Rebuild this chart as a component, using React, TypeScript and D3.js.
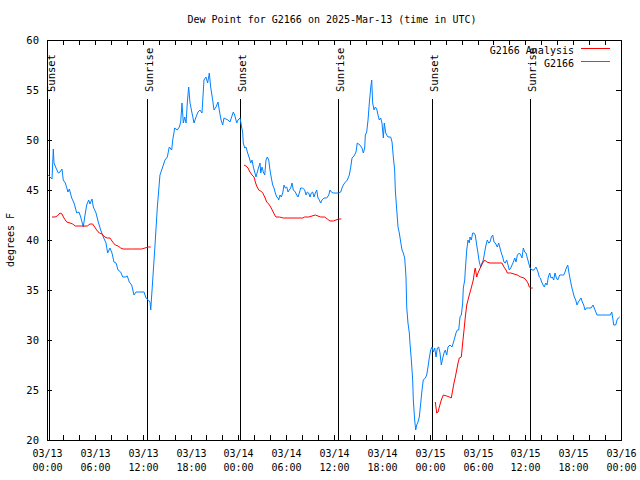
import React from "react";
import * as d3 from "d3";

const TITLE = "Dew Point for G2166 on 2025-Mar-13 (time in UTC)";
const Y_LABEL = "degrees F";
const START = Date.UTC(2025, 2, 13, 0, 0);
const END = Date.UTC(2025, 2, 16, 0, 0);
const yTicks = [20, 25, 30, 35, 40, 45, 50, 55, 60];

// Sun events (hours since 03/13 00:00 UTC)
const sunEventHours = [0.28, 12.58, 24.15, 36.55, 48.33, 60.62];
const sunEventNames = ["Sunset", "Sunrise", "Sunset", "Sunrise", "Sunset", "Sunrise"];

// G2166 observations (hours since start, deg F)
const obsHours = [
  0.13, 0.38, 0.63, 0.79, 0.88, 1.13, 1.42, 1.63, 1.88, 2.04, 2.30, 2.63, 2.80, 3.10, 3.39, 3.73, 4.01, 4.23, 4.55, 4.73,
  4.98, 5.23, 5.39, 5.64, 5.81, 6.15, 6.43, 6.74, 7.06, 7.40, 7.61, 7.90, 8.15, 8.40, 8.66, 8.91, 9.24, 9.50, 9.82, 10.07,
  10.32, 10.62, 10.91, 11.16, 11.67, 12.17, 12.42, 12.71, 12.92, 13.01, 13.26, 13.55, 13.84, 14.17, 14.51, 14.80, 15.09, 15.34, 15.64, 15.77,
  16.02, 16.34, 16.60, 16.77, 16.93, 17.10, 17.27, 17.44, 17.60, 17.77, 17.94, 18.19, 18.44, 18.69, 18.94, 19.19, 19.44, 19.69, 19.94, 20.15,
  20.36, 20.53, 20.78, 20.95, 21.20, 21.45, 21.61, 21.83, 22.04, 22.20, 22.45, 22.70, 22.95, 23.37, 23.54, 23.80, 23.96, 24.21, 24.37, 24.55,
  24.62, 24.80, 24.96, 25.13, 25.38, 25.55, 25.72, 25.88, 26.05, 26.22, 26.38, 26.56, 26.72, 26.81, 26.97, 27.13, 27.31, 27.47, 27.63, 27.81,
  27.97, 28.14, 28.31, 28.47, 28.64, 28.81, 28.98, 29.06, 29.23, 29.39, 29.57, 29.73, 29.89, 30.07, 30.23, 30.39, 30.57, 30.73, 30.90, 31.15,
  31.32, 31.48, 31.65, 31.82, 32.07, 32.32, 32.49, 32.65, 32.83, 32.99, 33.15, 33.33, 33.49, 33.66, 33.83, 33.99, 34.16, 34.33, 34.50, 34.75,
  35.09, 35.34, 35.50, 35.66, 35.91, 36.25, 36.59, 36.84, 37.00, 37.17, 37.34, 37.67, 37.92, 38.10, 38.26, 38.51, 38.76, 38.92, 39.26, 39.51,
  39.68, 39.85, 39.93, 40.10, 40.27, 40.43, 40.60, 40.73, 40.85, 41.02, 41.18, 41.36, 41.52, 41.68, 41.86, 42.02, 42.19, 42.31, 42.49, 42.61,
  42.77, 43.11, 43.28, 43.44, 43.61, 43.69, 43.87, 44.03, 44.19, 44.37, 44.53, 44.69, 44.87, 45.03, 45.12, 45.28, 45.45, 45.53, 45.70, 45.87,
  45.95, 46.12, 46.25, 46.37, 46.54, 46.70, 46.88, 47.04, 47.20, 47.45, 47.63, 47.79, 47.95, 48.13, 48.29, 48.46, 48.63, 48.80, 48.96, 49.13,
  49.30, 49.46, 49.64, 49.80, 49.96, 50.14, 50.30, 50.55, 50.80, 50.96, 51.14, 51.30, 51.47, 51.64, 51.81, 51.97, 52.14, 52.22, 52.40, 52.47,
  52.65, 52.81, 52.97, 53.06, 53.22, 53.40, 53.56, 53.72, 53.90, 54.06, 54.22, 54.40, 54.56, 54.73, 54.90, 55.07, 55.23, 55.41, 55.57, 55.74,
  55.91, 56.07, 56.23, 56.48, 56.66, 56.82, 56.99, 57.16, 57.32, 57.49, 57.66, 57.83, 57.99, 58.17, 58.33, 58.50, 58.67, 58.83, 59.00, 59.25,
  59.42, 59.58, 59.75, 59.92, 60.08, 60.25, 60.42, 60.59, 60.84, 61.09, 61.34, 61.59, 61.75, 61.88, 62.05, 62.22, 62.38, 62.56, 62.72, 62.88,
  63.06, 63.22, 63.38, 63.56, 63.72, 63.89, 64.06, 64.31, 64.56, 64.81, 64.98, 65.14, 65.32, 65.48, 65.64, 65.82, 65.98, 66.14, 66.32, 66.48,
  66.65, 66.82, 66.98, 67.15, 67.32, 67.49, 67.65, 67.90, 68.24, 68.49, 68.74, 68.99, 69.58, 70.21, 70.66, 70.84, 71.00, 71.09, 71.34, 71.50,
  71.66, 71.84,
];
const obsDew = [
  46.5, 46.3, 46.1, 49.1, 47.7, 47.2, 46.7, 46.8, 47.1, 46.0, 45.7, 44.8, 45.1, 44.2, 43.7, 42.7, 42.8, 42.3, 41.3, 42.3,
  43.5, 44.0, 43.6, 44.1, 43.3, 42.7, 41.8, 41.0, 40.3, 39.7, 38.7, 39.2, 38.7, 37.8, 37.7, 37.0, 36.8, 36.3, 36.3, 36.4,
  35.8, 35.5, 34.5, 34.8, 34.8, 34.8, 34.2, 34.0, 33.8, 33.0, 36.0, 39.5, 43.3, 46.5, 47.3, 48.0, 48.3, 49.3, 49.0, 50.0,
  51.2, 51.0, 51.3, 51.8, 53.7, 51.7, 52.3, 51.7, 53.7, 55.3, 53.7, 52.7, 51.7, 52.3, 52.8, 53.0, 52.7, 56.0, 56.3, 55.7,
  56.7, 55.3, 54.0, 53.0, 53.3, 53.8, 53.0, 52.0, 51.5, 52.2, 52.1, 52.0, 51.8, 52.8, 52.5, 51.7, 52.0, 52.2, 51.5, 50.7,
  49.7, 49.2, 49.3, 48.8, 48.2, 47.7, 48.0, 47.3, 46.8, 46.3, 46.8, 47.3, 47.7, 46.7, 47.3, 46.8, 46.5, 48.0, 48.3, 48.0,
  47.0, 46.2, 45.5, 45.2, 44.7, 44.3, 44.2, 44.0, 44.5, 44.3, 44.7, 45.5, 45.2, 45.3, 44.8, 45.0, 45.2, 45.7, 45.0, 44.8,
  44.5, 44.3, 44.7, 45.2, 45.2, 45.0, 44.5, 44.8, 44.7, 44.3, 44.7, 44.8, 44.3, 44.7, 45.0, 44.2, 44.0, 43.7, 44.0, 44.2,
  44.2, 44.5, 45.0, 44.8, 44.7, 44.7, 44.7, 44.8, 45.2, 45.5, 45.7, 46.0, 46.5, 47.3, 48.2, 48.4, 48.8, 49.7, 49.5, 49.2,
  48.7, 49.2, 50.5, 50.8, 52.0, 53.7, 55.2, 56.0, 53.7, 53.0, 53.3, 53.1, 52.5, 52.0, 52.2, 51.7, 50.2, 51.7, 50.7, 50.5,
  50.3, 50.3, 49.8, 48.3, 47.0, 45.0, 43.0, 41.3, 40.7, 39.8, 39.0, 38.7, 38.2, 36.3, 33.3, 31.7, 30.7, 29.7, 28.0, 26.0,
  24.0, 22.0, 21.0, 21.5, 21.8, 22.3, 23.7, 25.0, 26.0, 26.2, 26.5, 27.3, 28.2, 29.0, 29.3, 28.8, 29.2, 28.3, 29.2, 29.3,
  28.7, 27.5, 28.2, 28.7, 29.0, 28.5, 29.3, 29.5, 29.3, 29.7, 30.2, 30.7, 31.0, 31.0, 32.3, 32.5, 33.7, 35.2, 36.0, 37.0,
  39.0, 40.0, 39.7, 40.3, 40.0, 40.7, 40.7, 40.5, 39.5, 38.7, 37.8, 37.3, 37.7, 38.0, 38.8, 39.5, 40.0, 39.7, 39.8, 40.3,
  40.5, 39.8, 39.7, 39.3, 39.7, 39.2, 38.7, 38.3, 37.8, 37.7, 38.0, 37.5, 37.0, 37.2, 37.5, 37.8, 38.2, 37.8, 38.5, 38.7,
  38.5, 38.2, 39.2, 38.8, 38.7, 38.2, 37.7, 37.2, 37.0, 37.0, 37.3, 36.8, 36.3, 36.2, 35.8, 35.5, 35.3, 35.7, 35.5, 36.3,
  36.7, 36.2, 36.3, 36.0, 36.7, 36.2, 36.0, 36.5, 36.5, 36.5, 36.8, 37.2, 37.5, 36.7, 36.0, 35.3, 34.8, 34.3, 34.0, 33.5,
  33.8, 34.0, 34.2, 33.8, 33.5, 33.0, 33.2, 33.2, 33.2, 33.5, 33.0, 32.5, 32.5, 32.5, 32.5, 32.8, 32.0, 31.5, 31.5, 32.0,
  32.2, 32.3,
];

// G2166 Analysis (null separates runs)
const anaHours = [
  0.63, 1.00, 1.29, 1.63, 1.88, 2.13, 2.47, 2.89, 3.22, 3.55, 4.35, 5.06, 5.39, 5.73, 5.98, 6.23, 6.56, 6.90, 7.24, 7.56,
  7.90, 8.24, 8.57, 8.91, 9.24, 9.57, 10.62, 11.88, 12.29, 12.71, 13.01, null,
  24.71, 24.96, 25.21, 25.46, 25.72, 25.97, 26.13, 26.30, 26.56, 26.81, 27.06, 27.31, 27.56, 27.81, 28.06, 28.31, 28.56, 28.73, 29.14, 29.64,
  32.07, 32.32, 32.83, 33.24, 33.66, 33.99, 34.33, 34.83, 35.16, 35.50, 35.91, 36.25, 36.59, 36.92, null,
  48.71, 48.88, 49.05, 49.21, 49.46, 49.71, 50.14, 50.47, 50.71, 50.89, 51.05, 51.22, 51.39, 51.56, 51.72, 51.97, 52.14, 52.31, 52.47, 52.65,
  52.81, 52.97, 53.15, 53.31, 53.47, 53.65, 53.72, 53.90, 54.06, 54.22, 54.40, 54.65, 54.90, 55.15, 55.57, 57.07, 57.32, 57.58, 57.74, 58.17,
  58.58, 58.99, 59.42, 59.83, 60.08, 60.33, 60.50, 60.68, 60.93,
];
const anaDew = [
  42.3, 42.3, 42.4, 42.7, 42.6, 42.2, 41.8, 41.7, 41.6, 41.4, 41.4, 41.4, 41.6, 41.6, 41.3, 41.0, 40.7, 40.6, 40.3, 40.2,
  40.2, 39.8, 39.5, 39.4, 39.2, 39.1, 39.1, 39.1, 39.2, 39.3, 39.3, null,
  47.5, 47.4, 47.2, 46.8, 46.5, 46.3, 45.8, 45.4, 45.0, 44.9, 44.7, 44.3, 43.8, 43.6, 43.3, 42.9, 42.5, 42.3, 42.3, 42.2,
  42.2, 42.3, 42.3, 42.4, 42.5, 42.4, 42.3, 42.3, 42.1, 41.9, 41.9, 42.0, 42.1, 42.1, null,
  23.8, 22.7, 22.8, 23.3, 24.0, 24.5, 24.4, 24.3, 24.2, 25.0, 25.7, 26.3, 27.0, 27.7, 28.2, 28.3, 29.7, 31.0, 32.3, 33.5,
  34.0, 34.5, 35.0, 35.5, 36.0, 37.0, 37.2, 36.3, 36.7, 37.0, 37.3, 37.7, 38.0, 37.8, 37.7, 37.7, 37.3, 37.0, 36.7, 36.7,
  36.6, 36.5, 36.3, 36.2, 36.0, 35.7, 35.3, 35.2, 35.2,
];

const OBS_COLOR = "#0080ff";
const ANA_COLOR = "#ff0000";
const FONT = "'DejaVu Sans Mono', monospace";

const W = 640, H = 480;
const M = { left: 47, right: 621, top: 40, bottom: 440 };
const HOUR = 3600 * 1000;

export default function App() {
  const x = d3.scaleUtc().domain([new Date(START), new Date(END)]).range([M.left, M.right]);
  const y = d3.scaleLinear().domain([20, 60]).range([M.bottom, M.top]);
  const t = (h: number) => new Date(START + h * HOUR);

  const obs = obsHours.map((h, i) => ({ d: t(h), v: obsDew[i] }));
  const ana = anaHours.map((h, i) => ({ d: h == null ? null : t(h), v: anaDew[i] }));

  const line = d3
    .line<{ d: Date | null; v: number | null }>()
    .defined((p) => p.d != null && p.v != null)
    .x((p) => x(p.d as Date))
    .y((p) => y(p.v as number));

  const xTicks = x.ticks(d3.utcHour.every(2) as any);
  const fmtDate = d3.utcFormat("%m/%d");
  const fmtTime = d3.utcFormat("%H:%M");
  const TL = 5;

  return (
    <svg width={W} height={H} style={{ position: "absolute", left: 0, top: 0, background: "#fff" }} fontFamily={FONT} fontSize={10}>
      <rect x={0} y={0} width={W} height={H} fill="#fff" />
      <text x={332} y={23} textAnchor="middle" fill="#000">{TITLE}</text>
      <text transform={`translate(14,${(M.top + M.bottom) / 2}) rotate(-90)`} textAnchor="middle" fill="#000">{Y_LABEL}</text>

      {/* y ticks */}
      {yTicks.map((v) => (
        <g key={"y" + v} shapeRendering="crispEdges">
          <line x1={M.left} x2={M.left + TL} y1={Math.round(y(v)) + 0.5} y2={Math.round(y(v)) + 0.5} stroke="#000" />
          <line x1={M.right - TL} x2={M.right} y1={Math.round(y(v)) + 0.5} y2={Math.round(y(v)) + 0.5} stroke="#000" />
          <text x={M.left - 8} y={y(v) + 4} textAnchor="end" fill="#000" fontSize={10.5}>{v}</text>
        </g>
      ))}

      {/* x ticks */}
      {xTicks.map((d) => {
        const px = Math.round(x(d)) + 0.5;
        const labeled = d.getUTCHours() % 6 === 0;
        return (
          <g key={"x" + d.getTime()} shapeRendering="crispEdges">
            <line x1={px} x2={px} y1={M.bottom} y2={M.bottom - TL} stroke="#000" />
            <line x1={px} x2={px} y1={M.top} y2={M.top + TL} stroke="#000" />
            {labeled && (
              <>
                <text x={px} y={457} textAnchor="middle" fill="#000" fontSize={10}>{fmtDate(d)}</text>
                <text x={px} y={471} textAnchor="middle" fill="#000" fontSize={10}>{fmtTime(d)}</text>
              </>
            )}
          </g>
        );
      })}

      {/* sun events */}
      {sunEventHours.map((h, i) => {
        const px = Math.round(x(t(h))) + 0.5;
        return (
          <g key={"s" + i}>
            <line x1={px} x2={px} y1={99} y2={M.bottom} stroke="#000" shapeRendering="crispEdges" />
            <text transform={`translate(${px + 5},92) rotate(-90)`} textAnchor="start" fill="#000" fontSize={10.5}>
              {sunEventNames[i]}
            </text>
          </g>
        );
      })}

      {/* series */}
      <path d={line(obs) || ""} fill="none" stroke={OBS_COLOR} strokeWidth={1} />
      <path d={line(ana as any) || ""} fill="none" stroke={ANA_COLOR} strokeWidth={1} />

      {/* frame */}
      <rect x={M.left + 0.5} y={M.top + 0.5} width={M.right - M.left} height={M.bottom - M.top} fill="none" stroke="#000" shapeRendering="crispEdges" />

      {/* legend */}
      <text x={574} y={54} textAnchor="end" fill="#000" fontSize={10}>G2166 Analysis</text>
      <line x1={581} x2={610} y1={48.5} y2={48.5} stroke={ANA_COLOR} />
      <text x={574} y={67} textAnchor="end" fill="#000" fontSize={10}>G2166</text>
      <line x1={581} x2={610} y1={61.5} y2={61.5} stroke={OBS_COLOR} />
    </svg>
  );
}
